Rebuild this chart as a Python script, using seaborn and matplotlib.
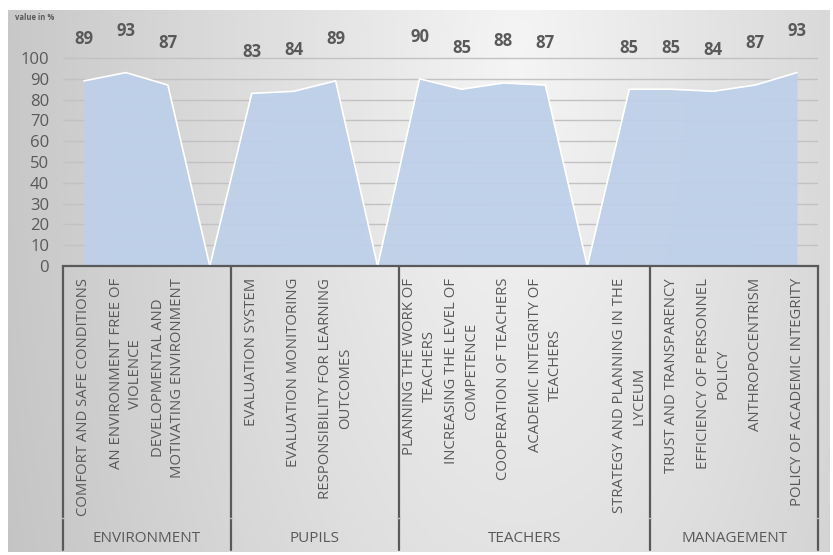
import numpy as np
import pandas as pd
import matplotlib
matplotlib.use("Agg")
import matplotlib.pyplot as plt
import matplotlib.transforms as mtransforms
import seaborn as sns

# ---------------- data ----------------
categories = [
    "COMFORT AND SAFE CONDITIONS",
    "AN ENVIRONMENT FREE OF\nVIOLENCE",
    "DEVELOPMENTAL AND\nMOTIVATING ENVIRONMENT",
    "",
    "EVALUATION SYSTEM",
    "EVALUATION MONITORING",
    "RESPONSIBILITY FOR LEARNING\nOUTCOMES",
    "",
    "PLANNING THE WORK OF\nTEACHERS",
    "INCREASING THE LEVEL OF\nCOMPETENCE",
    "COOPERATION OF TEACHERS",
    "ACADEMIC INTEGRITY OF\nTEACHERS",
    "",
    "STRATEGY AND PLANNING IN THE\nLYCEUM",
    "TRUST AND TRANSPARENCY",
    "EFFICIENCY OF PERSONNEL\nPOLICY",
    "ANTHROPOCENTRISM",
    "POLICY OF ACADEMIC INTEGRITY",
]
values = [89, 93, 87, 0, 83, 84, 89, 0, 90, 85, 88, 87, 0, 85, 85, 84, 87, 93]
show_label = [True, True, True, False, True, True, True, False,
              True, True, True, True, False, True, True, True, True, True]
groups = ["ENVIRONMENT", "PUPILS", "TEACHERS", "MANAGEMENT"]
group_sizes = [4, 4, 6, 4]
y_ticks = [0, 10, 20, 30, 40, 50, 60, 70, 80, 90, 100]
y_title = "value in %"

df = pd.DataFrame({"pos": np.arange(len(values)), "value": values})

# ---------------- figure ----------------
W, H = 833, 555
fig = plt.figure(figsize=(W / 100, H / 100), dpi=100)
fig.patch.set_facecolor("white")

# gradient background for chart area
bg = fig.add_axes([8 / W, 3 / H, (830 - 8) / W, (545 - 3) / H])
nx, ny = 300, 200
gx, gy = np.meshgrid(np.linspace(0, 1, nx), np.linspace(0, 1, ny))
d = np.sqrt(((gx - 0.62) / 0.6) ** 2 + ((gy - 0.1) / 2.2) ** 2)
g = np.clip(0.96 - 0.17 * d, 0.77, 0.97)
bg.imshow(np.dstack([g, g, g]), aspect="auto", extent=[0, 1, 1, 0], origin="upper")
bg.set_axis_off()

sns.set_style("white")
plt.rcParams["font.family"] = ["Open Sans", "DejaVu Sans"]

x0, x1 = 63, 818
y0_px, ytop_px = 266, 16.4
ax = fig.add_axes([x0 / W, (H - y0_px) / H, (x1 - x0) / W, (y0_px - ytop_px) / H])
ax.set_facecolor("none")
ax.patch.set_alpha(0)

ax.set_xlim(-0.5, len(values) - 0.5)
ax.set_ylim(0, 120)

# gridlines
for t in y_ticks[1:]:
    ax.axhline(t, color="#c2c2c2", lw=1.0, zorder=1)

ax.fill_between(df["pos"], 0, df["value"], color="#bdd0e9", alpha=0.93, zorder=2, lw=0)
sns.lineplot(data=df, x="pos", y="value", color="white", lw=1.2, ax=ax, zorder=3)

for s in ["top", "right", "left"]:
    ax.spines[s].set_visible(False)
ax.spines["bottom"].set_color("#595959")
ax.spines["bottom"].set_linewidth(1.6)
ax.spines["bottom"].set_zorder(5)

ax.set_yticks(y_ticks)
ax.set_yticklabels([str(t) for t in y_ticks], fontsize=12, color="#595959")
ax.tick_params(axis="y", length=0, pad=10)
ax.set_xticks([])
ax.set_xlabel("")
ax.set_ylabel("")

# data labels
for i, (v, s) in enumerate(zip(values, show_label)):
    if s:
        ax.text(i, v + 20, str(v), ha="center", va="center", fontsize=12,
                fontweight="bold", color="#595959", zorder=6)

fig.text(15 / W, (H - 18) / H, y_title, fontsize=5.5, color="#595959",
         fontweight="bold", ha="left", va="center")

# category axis (multi-level)
trans = mtransforms.blended_transform_factory(ax.transData, fig.transFigure)
top_y = (H - 278) / H
for i, c in enumerate(categories):
    if c:
        ax.text(i, top_y, c, transform=trans, rotation=90, ha="center", va="top",
                multialignment="center", fontsize=10.7, color="#595959", linespacing=1.4)

bounds = np.concatenate([[0], np.cumsum(group_sizes)]) - 0.5
for b in bounds:
    ax.plot([b, b], [(H - 266) / H, (H - 550) / H], transform=trans, color="#595959",
            lw=1.6, clip_on=False, zorder=5)
    ax.plot([b - 0.03, b + 0.03], [(H - 518) / H, (H - 518) / H], transform=trans,
            color="#bfbfbf", lw=1.0, clip_on=False, zorder=6)
for a, b, gname in zip(bounds[:-1], bounds[1:], groups):
    ax.text((a + b) / 2, (H - 538) / H, gname, transform=trans, ha="center", va="center",
            fontsize=11, color="#595959")

fig.savefig("out.png", dpi=100)
